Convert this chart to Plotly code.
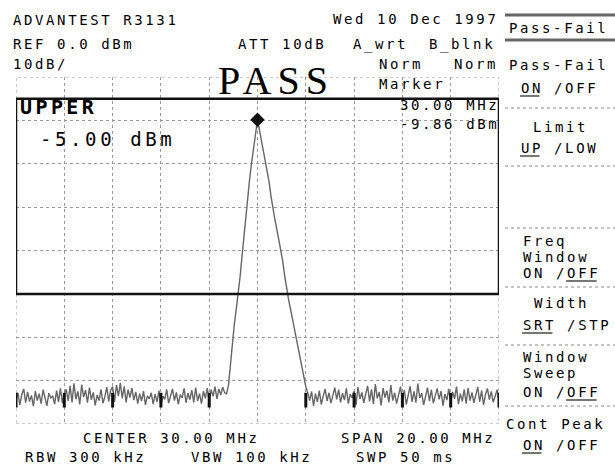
import numpy as np
import plotly.graph_objects as go

# ---------------- data ----------------
center_mhz = 30.0
span_mhz = 20.0
ref_dbm = 0.0
db_per_div = 10
n_div_x = 10
n_div_y = 8
n_points = 251

noise_left = [
    -74.5, -72.8, -75.6, -73.2, -71.9, -75.1, -72.6, -74.8, -73.4, -75.9,
    -72.4, -74.6, -73.0, -75.3, -72.1, -74.2, -75.8, -72.9, -74.0, -73.5,
    -75.4, -72.3, -74.9, -71.8, -75.2, -73.1, -72.0, -74.7, -71.2, -75.0,
    -70.6, -74.3, -72.5, -75.5, -70.9, -73.8, -72.2, -75.1, -71.6, -74.4,
    -72.7, -75.7, -73.3, -74.6, -72.0, -75.2, -73.7, -71.5, -74.8, -72.2,
    -71.4, -74.9, -71.0, -73.6, -70.5, -74.1, -71.3, -75.0, -72.1, -73.9,
    -71.7, -74.5, -72.6, -75.3, -73.0, -74.7, -72.4, -75.6, -73.5, -74.2,
    -72.8, -75.4, -73.1, -74.9, -72.3, -75.8, -73.6, -74.3, -72.0, -75.2,
    -73.4, -71.9, -74.6, -72.7, -75.5, -73.2, -74.0, -71.8, -75.1, -72.9,
    -74.4, -72.2, -75.0, -71.6, -74.7, -73.0, -75.3, -72.4, -74.1, -71.7,
    -74.8, -72.1, -73.6, -71.4, -74.2, -71.9, -73.3, -71.5, -72.8,
]
signal_slope = [
    -73.0, -71.0, -66.5, -60.5, -57.0, -53.5, -50.2, -46.0, -41.3, -36.5,
    -31.6, -27.5, -23.2, -19.6, -16.0, -12.5, -9.86, -12.2, -14.6, -16.8,
    -18.9, -21.0, -24.2, -27.5, -30.6, -32.8, -35.1, -37.4, -39.6, -42.3,
    -45.6, -48.8, -51.1, -53.3, -55.6, -57.7, -59.6, -62.0, -64.5, -67.0,
    -69.5, -71.4, -72.8,
]
noise_right = [
    -74.6, -72.5, -75.8, -73.0, -74.9, -72.3, -75.5, -73.6, -71.9, -74.7,
    -72.8, -75.2, -73.4, -71.6, -74.3, -72.1, -75.0, -72.9, -74.5, -71.8,
    -75.3, -73.1, -74.0, -72.4, -75.6, -71.5, -74.2, -72.7, -75.1, -73.3,
    -71.2, -74.8, -72.0, -75.4, -70.8, -74.1, -72.6, -75.7, -71.7, -73.9,
    -72.3, -75.0, -71.0, -74.6, -72.8, -75.3, -73.5, -71.4, -74.4, -72.2,
    -75.5, -73.0, -71.3, -74.9, -72.5, -75.1, -70.7, -74.0, -72.9, -75.6,
    -73.2, -71.6, -74.7, -72.1, -75.2, -73.7, -71.8, -74.3, -72.4, -75.8,
    -73.1, -74.5, -71.9, -75.0, -72.6, -74.2, -71.4, -75.4, -73.0, -74.8,
    -72.0, -75.3, -71.7, -74.6, -72.7, -75.1, -73.4, -71.5, -74.9, -72.3,
    -75.6, -73.2, -71.8, -74.4, -72.5, -75.0, -73.6, -72.1, -74.7,
]
amplitude_dbm = noise_left + signal_slope + noise_right

marker_freq = [30.00]
marker_dbm = [-9.86]
upper_limit_dbm = -5.0
window_floor_dbm = -50.0
noise_mark_band = [-72.8, -76.2]

# ---------------- layout helpers ----------------
W, H = 615, 469
L, R, T, B = 16, 499, 77, 424
MONO = "DejaVu Sans Mono"
INK = "#000000"
FS, LS = 14, 2.6          # small pixel-font look: size + letter spacing
ADV = FS * 0.602 + LS     # advance per character

f_start = center_mhz - span_mhz / 2
f_stop = center_mhz + span_mhz / 2
freq = np.linspace(f_start, f_stop, n_points)
y_bottom = ref_dbm - db_per_div * n_div_y
grid_freqs = np.linspace(f_start, f_stop, n_div_x + 1)


def px(x):
    return (x - L) / (R - L)


def py(y):
    return (B - y) / (B - T)


annotations = []


def txt(s, x, y, size=FS, ls=LS, anchor="left", bold=False, family=MONO, color=INK):
    annotations.append(dict(
        text='<span style="letter-spacing:%.1fpx">%s</span>' % (ls, s),
        x=px(x), y=py(y), xref="paper", yref="paper",
        xanchor=anchor, yanchor="middle", showarrow=False,
        font=dict(family=family, size=size, color=color,
                  weight="bold" if bold else "normal"),
        borderpad=0,
    ))


shapes = []


def pline(x0, y0, x1, y1, color="#888", width=1, dash="solid"):
    shapes.append(dict(type="line", xref="paper", yref="paper",
                       x0=px(x0), y0=py(y0), x1=px(x1), y1=py(y1),
                       line=dict(color=color, width=width, dash=dash)))


# header
txt("ADVANTEST R3131", 12, 20)
txt("Wed 10 Dec 1997", 332, 19)
txt("REF 0.0 dBm", 12, 44)
txt("ATT 10dB", 237, 44)
txt("A_wrt", 352, 44)
txt("B_blnk", 428, 44)
txt("10dB/", 12, 64)
txt("PASS", 217, 80, size=40, ls=6, family="Liberation Serif")
txt("Norm", 378, 64)
txt("Norm", 453, 64)
txt("Marker", 378, 84)
txt("30.00 MHz", 500, 105, anchor="right")
txt("-9.86 dBm", 500, 124, anchor="right")
txt("UPPER", 19, 107, size=20, ls=3.4, bold=True)
txt("-5.00 dBm", 39, 139, size=19, ls=3.6)

# footer
txt("CENTER 30.00 MHz", 82, 438)
txt("SPAN 20.00 MHz", 340, 438)
txt("RBW 300 kHz", 24, 457)
txt("VBW 100 kHz", 190, 457)
txt("SWP 50 ms", 355, 457)

# soft-key menu
menu = [
    ("Pass-Fail", 508, 28, None),
    ("Pass-Fail", 508, 65, None),
    ("ON /OFF", 520, 88, (0, 2)),
    ("Limit", 532, 127, None),
    ("UP /LOW", 520, 148, (0, 2)),
    ("Freq", 522, 241, None),
    ("Window", 522, 257, None),
    ("ON /OFF", 522, 273, (4, 7)),
    ("Width", 533, 303, None),
    ("SRT /STP", 522, 325, (0, 3)),
    ("Window", 522, 357, None),
    ("Sweep", 522, 373, None),
    ("ON /OFF", 522, 392, (4, 7)),
    ("Cont Peak", 505, 424, None),
    ("ON /OFF", 522, 445, (0, 2)),
]
for s, x, y, ul in menu:
    txt(s, x, y)
    if ul:
        pline(x + ul[0] * ADV, y + 8, x + ul[1] * ADV - LS, y + 8, color="#777", width=2)

for y in (15, 40):
    pline(505, y, 615, y, color="#666", width=3)
for y in (108, 166, 228, 287, 345, 406):
    pline(505, y, 615, y, color="#888", width=1, dash="dot")

# graticule border and limit window
shapes.append(dict(type="rect", xref="x", yref="y", x0=f_start, x1=f_stop,
                   y0=y_bottom, y1=ref_dbm, line=dict(color="#999", width=1, dash="dot")))
shapes.append(dict(type="rect", xref="x", yref="y", x0=f_start, x1=f_stop,
                   y0=window_floor_dbm, y1=upper_limit_dbm,
                   line=dict(color="#111", width=2.5)))
for g in grid_freqs:
    if abs(g - center_mhz) > 1e-6:
        shapes.append(dict(type="line", xref="x", yref="y", x0=g, x1=g,
                           y0=noise_mark_band[0], y1=noise_mark_band[1],
                           line=dict(color="#111", width=3)))

fig = go.Figure()
fig.add_trace(go.Scatter(x=freq, y=amplitude_dbm, mode="lines",
                         line=dict(color="#666", width=1.4), hoverinfo="skip"))
fig.add_trace(go.Scatter(x=marker_freq, y=marker_dbm, mode="markers",
                         marker=dict(symbol="diamond", size=11, color="#111"),
                         hoverinfo="skip"))

axis_common = dict(showticklabels=False, ticks="", zeroline=False, showline=False,
                   showgrid=True, gridcolor="#999", griddash="dot", gridwidth=1)
fig.update_layout(
    width=W, height=H,
    margin=dict(l=L, r=W - R, t=T, b=H - B, pad=0),
    paper_bgcolor="white", plot_bgcolor="white",
    showlegend=False,
    xaxis=dict(range=[f_start, f_stop], tick0=f_start, dtick=span_mhz / n_div_x, **axis_common),
    yaxis=dict(range=[y_bottom, ref_dbm], tick0=y_bottom, dtick=db_per_div, **axis_common),
    annotations=annotations,
    shapes=shapes,
)
fig.write_html("out.html", config={"displayModeBar": False},
               post_script="document.body.style.margin='0';document.body.style.padding='0';")
